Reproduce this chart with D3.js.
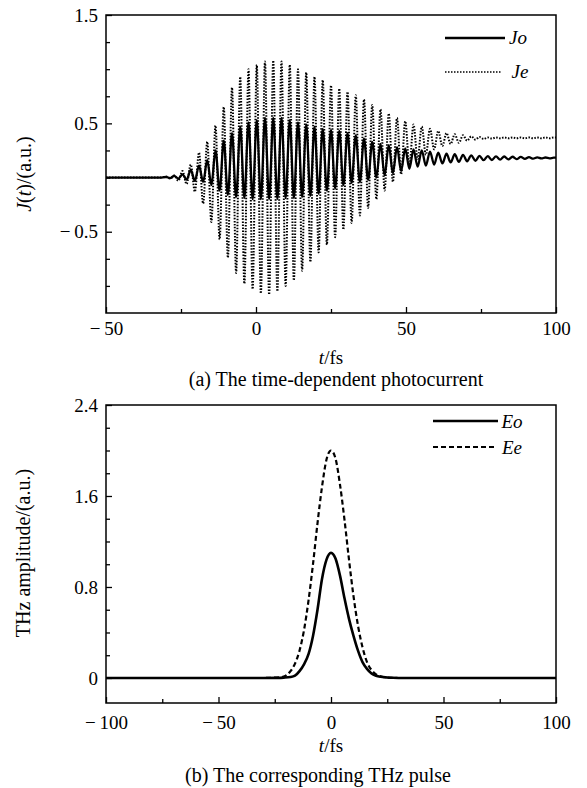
<!DOCTYPE html>
<html><head><meta charset="utf-8">
<script src="https://cdn.jsdelivr.net/npm/d3@7"></script>
<style>
html,body{margin:0;padding:0;background:#fff;}
svg{display:block;font-family:"Liberation Serif","Times New Roman",serif;}
</style></head>
<body>
<svg id="chart" width="587" height="788"></svg>
<script>
// ---------- DATA ----------
// (a) photocurrent: alternating extrema (max, min, max, ...) sampled every half optical cycle
const jStart = -30;          // fs, first extremum
const jHalfStep = 1.375;     // fs between successive extrema
const joPeaks = [0.005,-0.005,0.015,-0.01,0.03,-0.02,0.07,-0.03,0.11,-0.04,
  0.16,-0.07,0.25,-0.12,0.34,-0.16,0.41,-0.18,0.47,-0.19,
  0.51,-0.20,0.53,-0.20,0.55,-0.20,0.55,-0.20,0.55,-0.19,
  0.53,-0.19,0.51,-0.18,0.49,-0.17,0.47,-0.15,0.45,-0.12,
  0.44,-0.10,0.43,-0.07,0.41,-0.05,0.39,-0.04,0.36,-0.02,
  0.33,0.00,0.31,0.02,0.30,0.04,0.28,0.06,0.27,0.08,
  0.26,0.10,0.25,0.11,0.24,0.12,0.23,0.13,0.22,0.14,
  0.215,0.145,0.21,0.15,0.205,0.155,0.20,0.16,0.198,0.162,
  0.196,0.165,0.194,0.168,0.192,0.17,0.19,0.172,0.188,0.174,
  0.186,0.176,0.185,0.177,0.183];
const jePeaks = [0.01,-0.01,0.02,-0.03,0.06,-0.06,0.12,-0.13,0.23,-0.24,
  0.33,-0.41,0.48,-0.57,0.65,-0.74,0.83,-0.88,0.93,-0.98,
  1.00,-1.03,1.04,-1.07,1.07,-1.08,1.08,-1.05,1.07,-1.00,
  1.04,-0.95,1.00,-0.86,0.97,-0.78,0.93,-0.69,0.90,-0.62,
  0.85,-0.55,0.82,-0.48,0.79,-0.42,0.76,-0.35,0.72,-0.28,
  0.67,-0.20,0.63,-0.12,0.59,-0.04,0.55,0.03,0.52,0.11,
  0.49,0.17,0.47,0.21,0.45,0.26,0.43,0.29,0.41,0.31,
  0.40,0.32,0.39,0.34,0.38,0.35,0.375,0.355,0.37,0.36,
  0.37,0.362,0.37,0.362,0.37,0.362,0.37,0.362,0.37,0.362,
  0.37,0.362,0.37,0.362,0.37];
const jXTicks = [-50,0,50,100];
const jXMinor = [-25,25,75];
const jYTicks = [1.5,0.5,-0.5];
const jYMinor = [1.25,1.0,0.75,0.25,0,-0.25,-0.75,-1.0];

// (b) THz pulse
const pulseT = [-100,-30,-24,-21,-18,-16,-14,-12,-10,-8,-6,-4,-2,0,2,4,6,8,10,12,14,16,18,20,22,25,30,100];
const eoVals = [0,0,0.001,0.003,0.008,0.02,0.06,0.12,0.21,0.37,0.6,0.87,1.04,1.1,1.05,0.9,0.7,0.52,0.37,0.24,0.14,0.08,0.04,0.02,0.01,0.004,0,0];
const eeVals = [0,0,0.004,0.012,0.06,0.126,0.24,0.42,0.68,1.0,1.36,1.68,1.92,2.0,1.93,1.7,1.39,1.04,0.72,0.46,0.27,0.14,0.07,0.032,0.014,0.004,0,0];
const eXTicks = [-100,-50,0,50,100];
const eXMinor = [-75,-25,25,75];
const eYTicks = [0,0.8,1.6,2.4];
const eYMinor = [0.2,0.4,0.6,1.0,1.2,1.4,1.8,2.0,2.2];

// ---------- DRAWING ----------
const FONT = '"Liberation Serif","Times New Roman",serif';
const svg = d3.select("#chart");
const fmt = d => (d < 0 ? "\u2212\u2009" + Math.abs(d) : String(d));

function panel(cfg) {
  const x = d3.scaleLinear().domain(cfg.xDomain).range([106, 556]);
  const y = d3.scaleLinear().domain(cfg.yDomain).range([cfg.bottom, cfg.top]);
  const g = svg.append("g");
  const clipId = "clip" + cfg.id;
  g.append("clipPath").attr("id", clipId).append("rect")
    .attr("x", 106).attr("y", cfg.top).attr("width", 450).attr("height", cfg.bottom - cfg.top);

  const axes = g.append("g");
  axes.append("g").attr("transform", `translate(0,${cfg.bottom})`)
    .call(d3.axisBottom(x).tickValues(cfg.xTicks).tickFormat(fmt).tickSizeInner(-6).tickSizeOuter(0).tickPadding(cfg.xPad));
  axes.append("g").attr("transform", `translate(0,${cfg.bottom})`)
    .call(d3.axisBottom(x).tickValues(cfg.xMinor).tickFormat("").tickSizeInner(-4).tickSizeOuter(0));
  axes.append("g").attr("transform", `translate(106,0)`)
    .call(d3.axisLeft(y).tickValues(cfg.yTicks).tickFormat(fmt).tickSizeInner(-6).tickSizeOuter(0).tickPadding(8));
  axes.append("g").attr("transform", `translate(106,0)`)
    .call(d3.axisLeft(y).tickValues(cfg.yMinor).tickFormat("").tickSizeInner(-4).tickSizeOuter(0));
  axes.selectAll("g").attr("font-family", FONT).attr("font-size", 19);
  axes.selectAll(".domain").remove();
  axes.selectAll(".tick line").attr("stroke", "#000").attr("stroke-width", 1.3);
  axes.selectAll(".tick text").attr("fill", "#000").attr("font-family", FONT).attr("font-size", 19);

  g.append("rect").attr("x", 106).attr("y", cfg.top).attr("width", 450).attr("height", cfg.bottom - cfg.top)
    .attr("fill", "none").attr("stroke", "#000").attr("stroke-width", 1.5);

  const plot = g.append("g").attr("clip-path", `url(#${clipId})`);
  return { x, y, g, plot };
}

function label(parent, x, y, size, parts, transform) {
  const t = parent.append("text").attr("text-anchor", "middle").attr("font-size", size).attr("font-family", FONT);
  if (transform) t.attr("transform", transform); else t.attr("x", x).attr("y", y);
  parts.forEach(p => {
    const s = t.append("tspan").text(p[0]);
    if (p[1]) s.attr("font-style", "italic");
  });
  return t;
}

// ---- panel (a)
const A = panel({ id: "a", xDomain: [-50, 100], yDomain: [-1.25, 1.5], top: 15, bottom: 313, xPad: 9,
  xTicks: jXTicks, xMinor: jXMinor, yTicks: jYTicks, yMinor: jYMinor });

function peakSeries(peaks) {
  const pts = [[-50, 0], [jStart - 2, 0]];
  peaks.forEach((v, k) => pts.push([jStart + k * jHalfStep, v]));
  pts.push([100, peaks[peaks.length - 1]]);
  return pts;
}
const lineAGen = d3.line().x(d => A.x(d[0])).y(d => A.y(d[1])).curve(d3.curveMonotoneX);

A.plot.append("path").datum(peakSeries(jePeaks)).attr("d", lineAGen)
  .attr("fill", "none").attr("stroke", "#000").attr("stroke-width", 2).attr("stroke-dasharray", "1.5,1.5");
A.plot.append("path").datum(peakSeries(joPeaks)).attr("d", lineAGen)
  .attr("fill", "none").attr("stroke", "#000").attr("stroke-width", 2.3);

// legend (a)
A.g.append("line").attr("x1", 445).attr("x2", 505).attr("y1", 38).attr("y2", 38)
  .attr("stroke", "#000").attr("stroke-width", 2.3);
A.g.append("line").attr("x1", 445).attr("x2", 501).attr("y1", 72).attr("y2", 72)
  .attr("stroke", "#000").attr("stroke-width", 1.6).attr("stroke-dasharray", "1.5,1.5");
label(A.g, 0, 0, 19, [["Jo", true]], "translate(518,44)");
label(A.g, 0, 0, 19, [["Je", true]], "translate(520,78)");

// axis titles (a)
label(A.g, 331, 364, 19, [["t", true], ["/fs", false]]);
label(A.g, 336, 386, 20, [["(a) The time-dependent photocurrent", false]]);
label(A.g, 0, 0, 20, [["J", true], ["(", false], ["t", true], [")/(a.u.)", false]], "translate(31,174) rotate(-90)");

// ---- panel (b)
const B = panel({ id: "b", xDomain: [-100, 100], yDomain: [-0.22, 2.4], top: 405, bottom: 703, xPad: 13,
  xTicks: eXTicks, xMinor: eXMinor, yTicks: eYTicks, yMinor: eYMinor });

const pulseLine = vals => d3.line().x((d, i) => B.x(pulseT[i])).y(d => B.y(d)).curve(d3.curveMonotoneX)(vals);
B.plot.append("path").attr("d", pulseLine(eeVals))
  .attr("fill", "none").attr("stroke", "#000").attr("stroke-width", 2.2).attr("stroke-dasharray", "5,3");
B.plot.append("path").attr("d", pulseLine(eoVals))
  .attr("fill", "none").attr("stroke", "#000").attr("stroke-width", 2.6);

// legend (b)
B.g.append("line").attr("x1", 433).attr("x2", 498).attr("y1", 421).attr("y2", 421)
  .attr("stroke", "#000").attr("stroke-width", 2.4);
B.g.append("line").attr("x1", 433).attr("x2", 497).attr("y1", 447).attr("y2", 447)
  .attr("stroke", "#000").attr("stroke-width", 1.8).attr("stroke-dasharray", "5,3");
label(B.g, 0, 0, 19, [["Eo", true]], "translate(512,428)");
label(B.g, 0, 0, 19, [["Ee", true]], "translate(512,454)");

label(B.g, 331, 752, 19, [["t", true], ["/fs", false]]);
label(B.g, 318, 782, 20, [["(b) The corresponding THz pulse", false]]);
label(B.g, 0, 0, 20, [["THz amplitude/(a.u.)", false]], "translate(30,553) rotate(-90)");
</script>
</body></html>
